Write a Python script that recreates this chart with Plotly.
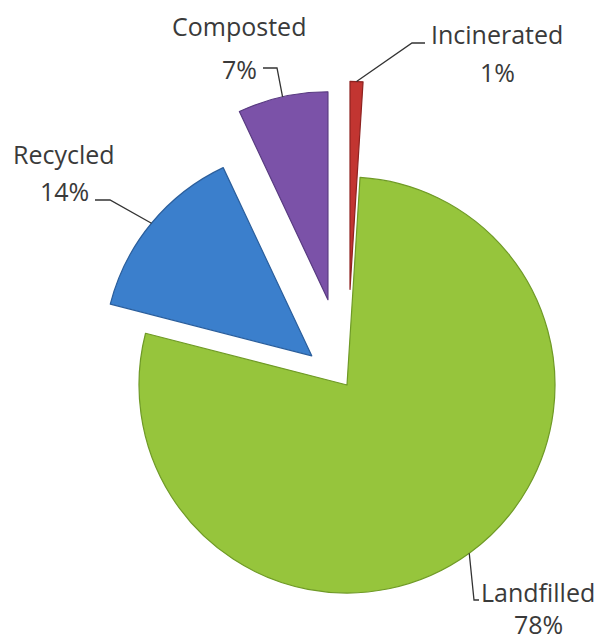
import math
import plotly.graph_objects as go

# ---- data ----
labels = ["Incinerated", "Landfilled", "Recycled", "Composted"]
values = [1, 78, 14, 7]
colors = ["#C23531", "#96C53C", "#3B7FCC", "#7B52A8"]
edge_colors = ["#8E2220", "#6F9A26", "#2A5E9C", "#583A80"]
explode = [0.46, 0.0, 0.22, 0.42]  # fraction of radius each slice is pulled out

# ---- layout (pixels) ----
W, H = 601, 644
CX, CY, R = 347, 385, 208
FONT = "Open Sans"
TXT = "#3a3a3a"

# label anchors: (name x, name y, pct y), leader polyline points after slice edge
label_pos = {
    "Incinerated": dict(x=497, y1=34, y2=72, path=[(412, 43), (425, 43)]),
    "Landfilled": dict(x=538, y1=592, y2=624, path=[(474, 600), (479, 600)]),
    "Recycled": dict(x=64, y1=154, y2=191, path=[(110, 200), (95, 200)]),
    "Composted": dict(x=239, y1=26, y2=69, path=[(277, 68), (263, 68)]),
}

total = sum(values)
fig = go.Figure()
annotations = []
shapes = []
cum = 0.0
for i, (lab, v) in enumerate(zip(labels, values)):
    a0 = cum / total * 360
    cum += v
    a1 = cum / total * 360
    mid = math.radians((a0 + a1) / 2)
    dx, dy = math.sin(mid), -math.cos(mid)
    off = explode[i] * R
    ax, ay = CX + off * dx, CY + off * dy  # apex of this slice (px)

    cols = ["rgba(0,0,0,0)"] * len(values)
    cols[i] = colors[i]
    lw = [0] * len(values)
    lw[i] = 1.2
    lc = ["rgba(0,0,0,0)"] * len(values)
    lc[i] = edge_colors[i]
    fig.add_trace(go.Pie(
        labels=labels, values=values, sort=False, direction="clockwise",
        rotation=0, textinfo="none", hoverinfo="label+percent",
        marker=dict(colors=cols, line=dict(color=lc, width=lw)),
        domain=dict(x=[(ax - R) / W, (ax + R) / W],
                    y=[1 - (ay + R) / H, 1 - (ay - R) / H]),
        showlegend=False,
    ))

    # leader line from the outer arc midpoint to the label
    ex, ey = ax + R * dx, ay + R * dy
    pts = [(ex, ey)] + label_pos[lab]["path"]
    d = "M " + " L ".join(f"{px / W},{1 - py / H}" for px, py in pts)
    shapes.append(dict(type="path", xref="paper", yref="paper", path=d,
                       line=dict(color="#333333", width=1.3)))

    lp = label_pos[lab]
    pct = f"{round(v / total * 100)}%"
    for txt, yy in ((lab, lp["y1"]), (pct, lp["y2"])):
        annotations.append(dict(
            x=lp["x"] / W, y=1 - yy / H, xref="paper", yref="paper",
            text=txt, showarrow=False, xanchor="center", yanchor="middle",
            borderpad=0,
            font=dict(family=FONT, size=25, color=TXT)))

fig.update_layout(
    width=W, height=H,
    margin=dict(l=0, r=0, t=0, b=0),
    paper_bgcolor="white", plot_bgcolor="white",
    annotations=annotations, shapes=shapes,
    showlegend=False,
)

fig.write_html(
    "out.html",
    config={"displayModeBar": False},
    post_script="document.body.style.margin='0';document.body.style.overflow='hidden';",
)
